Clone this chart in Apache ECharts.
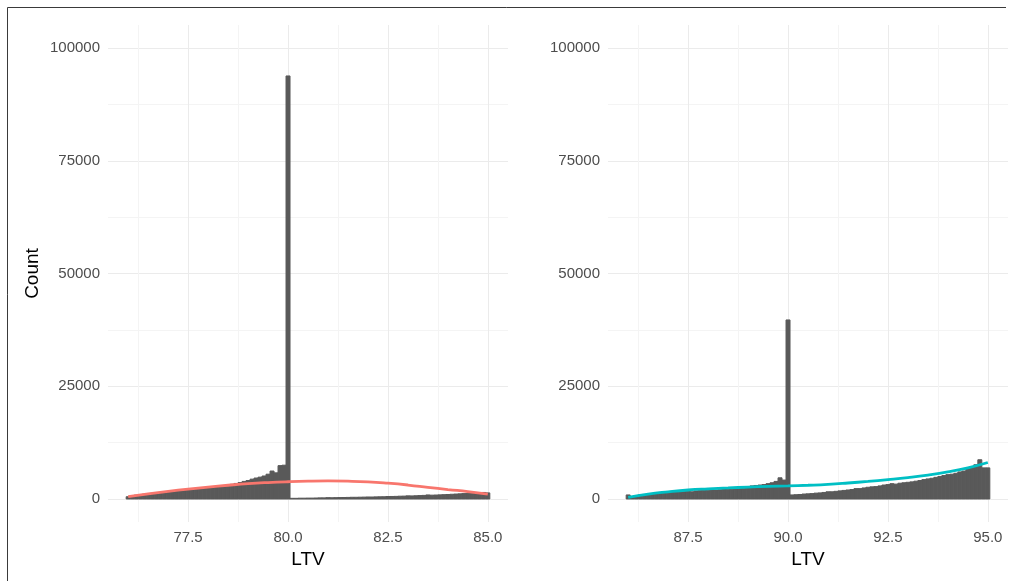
<!DOCTYPE html>
<html>
<head>
<meta charset="utf-8">
<script src="https://cdn.jsdelivr.net/npm/echarts@6/dist/echarts.min.js"></script>
<style>
  html, body { margin: 0; padding: 0; background: #ffffff; }
  #chart { width: 1010px; height: 581px; }
</style>
</head>
<body>
<div id="chart"></div>
<script>
// Histogram bins: centres start at the first value and step by binWidth
const binWidth = 0.1;
const leftBinStart = 76.0;
const rightBinStart = 86.0;

// Counts per LTV bin, 76.0 .. 85.0
const leftCounts = [
  500, 700, 850, 950, 1050, 1150, 1250, 1350, 1450, 1500,
  1600, 1700, 1800, 1900, 1950, 2050, 2150, 2200, 2300, 2400,
  2500, 2600, 2700, 2800, 2900, 3050, 3250, 3450, 3650, 3900,
  4100, 4400, 4650, 4850, 5100, 5500, 6200, 5800, 7400, 7500,
  93800,
  150, 150, 180, 180, 200, 200, 220, 250, 250, 300,
  280, 300, 320, 330, 350, 380, 380, 400, 420, 450,
  440, 470, 490, 500, 550, 560, 580, 620, 640, 700,
  680, 720, 760, 800, 900, 850, 880, 920, 960, 1000,
  1050, 1100, 1150, 1200, 1250, 1300, 1350, 1400, 1450, 1350
];

// Counts per LTV bin, 86.0 .. 95.0
const rightCounts = [
  900, 500, 700, 900, 1000, 1100, 1200, 1300, 1400, 1450,
  1500, 1550, 1600, 1650, 1700, 1750, 1600, 1800, 1850, 1900,
  1950, 2000, 2000, 2050, 2100, 2150, 2200, 2250, 2300, 2400,
  2700, 2900, 3000, 3100, 3200, 3400, 3600, 3900, 4700, 4200,
  39700,
  900, 950, 1000, 1100, 1150, 1200, 1300, 1350, 1450, 1600,
  1600, 1700, 1800, 1900, 2000, 2100, 2300, 2300, 2450, 2600,
  2700, 2750, 2900, 3100, 3200, 3400, 3300, 3500, 3600, 3700,
  3800, 3950, 4100, 4300, 4450, 4600, 4800, 5000, 5200, 5400,
  5500, 5700, 6000, 6200, 6700, 7200, 7600, 8700, 6900, 6900
];

// Smoothed trend curves
const leftFitX = [76.0, 76.5, 77.0, 77.5, 78.0, 78.5, 79.0, 79.5, 80.0, 80.5, 81.0, 81.5, 82.0, 82.5, 83.0, 83.5, 84.0, 84.5, 85.0];
const leftFitY = [550, 1150, 1700, 2200, 2650, 3050, 3400, 3650, 3830, 3950, 4000, 3950, 3800, 3500, 3100, 2600, 2100, 1650, 1100];
const rightFitX = [86.0, 86.5, 87.0, 87.5, 88.0, 88.5, 89.0, 89.5, 90.0, 90.5, 91.0, 91.5, 92.0, 92.5, 93.0, 93.5, 94.0, 94.5, 95.0];
const rightFitY = [350, 1100, 1600, 2000, 2250, 2450, 2650, 2800, 2900, 3050, 3250, 3550, 3900, 4300, 4750, 5300, 6000, 6900, 8100];

// Axis ticks
const countTicks = [0, 25000, 50000, 75000, 100000];
const countMinorTicks = [12500, 37500, 62500, 87500];
const leftLtvTicks = [77.5, 80.0, 82.5, 85.0];
const leftLtvMinorTicks = [76.25, 78.75, 81.25, 83.75];
const rightLtvTicks = [87.5, 90.0, 92.5, 95.0];
const rightLtvMinorTicks = [86.25, 88.75, 91.25, 93.75];

const countRange = [-5100, 105100];
const leftLtvRange = [75.495, 85.505];
const rightLtvRange = [85.495, 95.505];

const FONT = 'Liberation Sans, Arial, sans-serif';
const MAJOR = '#ebebeb';
const MINOR = '#f4f4f4';
const BAR = '#595959';

function binRows(start, counts) {
  return counts.map((c, i) => [+(start + i * binWidth).toFixed(2), c]);
}
function pairRows(xs, ys) {
  return xs.map((x, i) => [x, ys[i]]);
}

// One filled rectangle per bin; a stroke in the fill colour closes the
// anti-aliasing seams between neighbouring bins.
function renderBin(params, api) {
  const x = api.value(0);
  const c = api.value(1);
  const topLeft = api.coord([x - binWidth / 2, c]);
  const bottomRight = api.coord([x + binWidth / 2, 0]);
  return {
    type: 'rect',
    shape: {
      x: topLeft[0],
      y: topLeft[1],
      width: bottomRight[0] - topLeft[0],
      height: bottomRight[1] - topLeft[1]
    },
    style: { fill: BAR, stroke: BAR, lineWidth: 1 }
  };
}

function xAxes(gridIndex, range, ticks, minorTicks) {
  return [
    {
      type: 'value', gridIndex: gridIndex, position: 'bottom',
      min: range[0], max: range[1],
      axisLine: { show: false, onZero: false },
      axisTick: { show: false, customValues: ticks },
      axisLabel: {
        customValues: ticks, margin: 8,
        color: '#4d4d4d', fontSize: 15, fontFamily: FONT,
        formatter: v => v.toFixed(1)
      },
      splitLine: { show: true, lineStyle: { color: MAJOR, width: 1 } },
      name: 'LTV', nameLocation: 'middle', nameGap: 27,
      nameTextStyle: { color: '#000000', fontSize: 19, fontFamily: FONT }
    },
    {
      type: 'value', gridIndex: gridIndex, position: 'top',
      min: range[0], max: range[1],
      axisLine: { show: false, onZero: false },
      axisTick: { show: false, customValues: minorTicks },
      axisLabel: { show: false, customValues: minorTicks },
      splitLine: { show: true, lineStyle: { color: MINOR, width: 1 } }
    }
  ];
}

function yAxes(gridIndex, withName) {
  const major = {
    type: 'value', gridIndex: gridIndex, position: 'left',
    min: countRange[0], max: countRange[1],
    axisLine: { show: false, onZero: false },
    axisTick: { show: false, customValues: countTicks },
    axisLabel: {
      customValues: countTicks, margin: 8,
      color: '#4d4d4d', fontSize: 15, fontFamily: FONT,
      formatter: v => String(Math.round(v))
    },
    splitLine: { show: true, lineStyle: { color: MAJOR, width: 1 } }
  };
  if (withName) {
    major.name = 'Count';
    major.nameLocation = 'middle';
    major.nameGap = 66;
    major.nameTextStyle = { color: '#000000', fontSize: 19, fontFamily: FONT };
  }
  return [
    major,
    {
      type: 'value', gridIndex: gridIndex, position: 'right',
      min: countRange[0], max: countRange[1],
      axisLine: { show: false, onZero: false },
      axisTick: { show: false, customValues: countMinorTicks },
      axisLabel: { show: false, customValues: countMinorTicks },
      splitLine: { show: true, lineStyle: { color: MINOR, width: 1 } }
    }
  ];
}

const chart = echarts.init(document.getElementById('chart'), null, { renderer: 'canvas' });

chart.setOption({
  animation: false,
  backgroundColor: '#ffffff',
  grid: [
    { left: 108, top: 25, width: 400, height: 497 },
    { left: 608, top: 25, width: 400, height: 497 }
  ],
  xAxis: [
    ...xAxes(0, leftLtvRange, leftLtvTicks, leftLtvMinorTicks),
    ...xAxes(1, rightLtvRange, rightLtvTicks, rightLtvMinorTicks)
  ],
  yAxis: [
    ...yAxes(0, true),
    ...yAxes(1, false)
  ],
  series: [
    {
      type: 'custom', xAxisIndex: 0, yAxisIndex: 0,
      data: binRows(leftBinStart, leftCounts),
      encode: { x: 0, y: 1 },
      renderItem: renderBin, z: 2
    },
    {
      type: 'line', xAxisIndex: 0, yAxisIndex: 0,
      data: pairRows(leftFitX, leftFitY),
      smooth: true, showSymbol: false, symbol: 'none',
      lineStyle: { color: '#F8766D', width: 2.8 }, z: 3
    },
    {
      type: 'custom', xAxisIndex: 2, yAxisIndex: 2,
      data: binRows(rightBinStart, rightCounts),
      encode: { x: 0, y: 1 },
      renderItem: renderBin, z: 2
    },
    {
      type: 'line', xAxisIndex: 2, yAxisIndex: 2,
      data: pairRows(rightFitX, rightFitY),
      smooth: true, showSymbol: false, symbol: 'none',
      lineStyle: { color: '#00BFC4', width: 2.8 }, z: 3
    }
  ],
  graphic: [
    {
      type: 'polyline', silent: true,
      shape: { points: [[7.5, 600], [7.5, 7.5], [1006, 7.5]] },
      style: { stroke: '#3a3a3a', lineWidth: 1, fill: null }
    }
  ]
});
</script>
</body>
</html>
